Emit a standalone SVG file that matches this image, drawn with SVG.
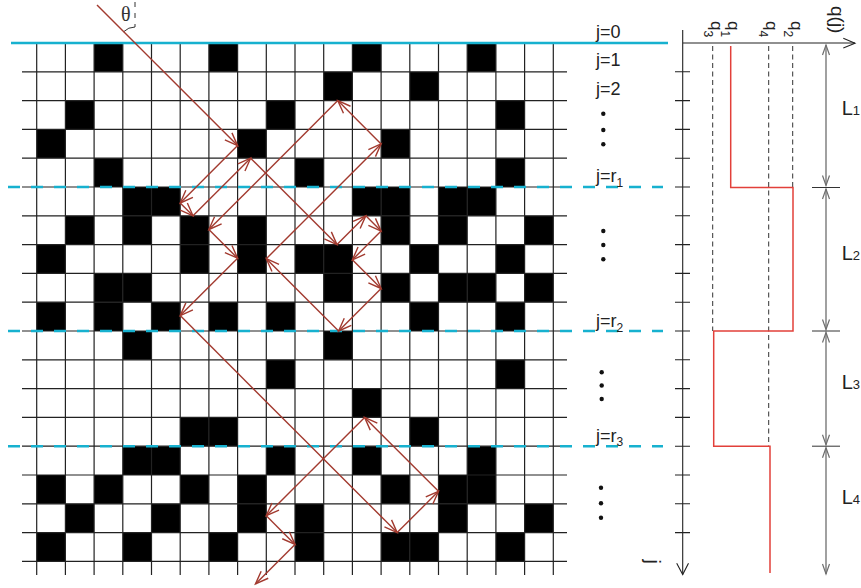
<svg xmlns="http://www.w3.org/2000/svg" width="861" height="588" viewBox="0 0 861 588">
<style>
.gl{stroke:#222;stroke-width:1.2;fill:none}
.cy{stroke:#17b1cf;stroke-width:2.6;fill:none}
.cyd{stroke:#17b1cf;stroke-width:2.6;fill:none;stroke-dasharray:12 11}
.ray{stroke:#a23a2f;stroke-width:1.4;fill:none;marker-end:url(#ah)}
.ax{stroke:#222;stroke-width:1.1;fill:none}
.qd{stroke:#333;stroke-width:1;fill:none;stroke-dasharray:5 3.5}
.prof{stroke:#e2403a;stroke-width:1.5;fill:none}
.dim{stroke:#6e6e6e;stroke-width:1.3;fill:none;marker-start:url(#da);marker-end:url(#da)}
.dtk{stroke:#333;stroke-width:1;fill:none}
.t{font-family:"Liberation Sans",Arial,sans-serif;fill:#222}
.dot{fill:#111}
</style>
<defs>
<rect id="b" width="28.7" height="28.8" fill="#000"/>
<marker id="ah" viewBox="-15 -7 17 14" refX="0" refY="0" markerWidth="17" markerHeight="14" markerUnits="userSpaceOnUse" orient="auto"><path d="M-13,-5 L0,0 L-13,5" fill="none" stroke="#a23a2f" stroke-width="1.4"/></marker>
<marker id="da" viewBox="-12 -5 14 10" refX="0" refY="0" markerWidth="14" markerHeight="10" markerUnits="userSpaceOnUse" orient="auto-start-reverse"><path d="M-10,-3.5 L0,0 L-10,3.5" fill="none" stroke="#6e6e6e" stroke-width="1.2"/></marker>
</defs>

<g id="cells">
<use href="#b" x="94.1" y="43"/><use href="#b" x="208.9" y="43"/><use href="#b" x="352.4" y="43"/><use href="#b" x="467.2" y="43"/>
<use href="#b" x="323.7" y="71.8"/><use href="#b" x="409.8" y="71.8"/>
<use href="#b" x="65.4" y="100.6"/><use href="#b" x="266.3" y="100.6"/><use href="#b" x="495.9" y="100.6"/>
<use href="#b" x="36.7" y="129.4"/><use href="#b" x="237.6" y="129.4"/><use href="#b" x="381.1" y="129.4"/>
<use href="#b" x="94.1" y="158.2"/><use href="#b" x="295" y="158.2"/><use href="#b" x="495.9" y="158.2"/>
<use href="#b" x="122.8" y="187"/><use href="#b" x="151.5" y="187"/><use href="#b" x="352.4" y="187"/><use href="#b" x="381.1" y="187"/><use href="#b" x="438.5" y="187"/><use href="#b" x="467.2" y="187"/>
<use href="#b" x="65.4" y="215.8"/><use href="#b" x="122.8" y="215.8"/><use href="#b" x="180.2" y="215.8"/><use href="#b" x="237.6" y="215.8"/><use href="#b" x="381.1" y="215.8"/><use href="#b" x="438.5" y="215.8"/><use href="#b" x="524.6" y="215.8"/>
<use href="#b" x="36.7" y="244.6"/><use href="#b" x="180.2" y="244.6"/><use href="#b" x="237.6" y="244.6"/><use href="#b" x="295" y="244.6"/><use href="#b" x="323.7" y="244.6"/><use href="#b" x="409.8" y="244.6"/><use href="#b" x="495.9" y="244.6"/>
<use href="#b" x="94.1" y="273.4"/><use href="#b" x="122.8" y="273.4"/><use href="#b" x="323.7" y="273.4"/><use href="#b" x="381.1" y="273.4"/><use href="#b" x="438.5" y="273.4"/><use href="#b" x="467.2" y="273.4"/><use href="#b" x="524.6" y="273.4"/>
<use href="#b" x="36.7" y="302.2"/><use href="#b" x="94.1" y="302.2"/><use href="#b" x="151.5" y="302.2"/><use href="#b" x="208.9" y="302.2"/><use href="#b" x="266.3" y="302.2"/><use href="#b" x="409.8" y="302.2"/><use href="#b" x="495.9" y="302.2"/>
<use href="#b" x="122.8" y="331"/><use href="#b" x="323.7" y="331"/>
<use href="#b" x="266.3" y="359.8"/><use href="#b" x="495.9" y="359.8"/>
<use href="#b" x="352.4" y="388.6"/>
<use href="#b" x="180.2" y="417.4"/><use href="#b" x="208.9" y="417.4"/><use href="#b" x="409.8" y="417.4"/>
<use href="#b" x="122.8" y="446.2"/><use href="#b" x="151.5" y="446.2"/><use href="#b" x="266.3" y="446.2"/><use href="#b" x="352.4" y="446.2"/><use href="#b" x="467.2" y="446.2"/>
<use href="#b" x="36.7" y="475"/><use href="#b" x="94.1" y="475"/><use href="#b" x="180.2" y="475"/><use href="#b" x="237.6" y="475"/><use href="#b" x="381.1" y="475"/><use href="#b" x="438.5" y="475"/><use href="#b" x="467.2" y="475"/>
<use href="#b" x="65.4" y="503.8"/><use href="#b" x="151.5" y="503.8"/><use href="#b" x="237.6" y="503.8"/><use href="#b" x="295" y="503.8"/><use href="#b" x="438.5" y="503.8"/><use href="#b" x="524.6" y="503.8"/>
<use href="#b" x="36.7" y="532.6"/><use href="#b" x="122.8" y="532.6"/><use href="#b" x="208.9" y="532.6"/><use href="#b" x="295" y="532.6"/><use href="#b" x="381.1" y="532.6"/><use href="#b" x="409.8" y="532.6"/><use href="#b" x="495.9" y="532.6"/>
</g>

<g id="grid">
<path class="gl" d="M22,71.8H567M22,100.6H567M22,129.4H567M22,158.2H567M22,187H567M22,215.8H567M22,244.6H567M22,273.4H567M22,302.2H567M22,331H567M22,359.8H567M22,388.6H567M22,417.4H567M22,446.2H567M22,475H567M22,503.8H567M22,532.6H567M22,561.4H567"/>
<path class="gl" d="M36.7,43V575M65.4,43V575M94.1,43V575M122.8,43V575M151.5,43V575M180.2,43V575M208.9,43V575M237.6,43V575M266.3,43V575M295,43V575M323.7,43V575M352.4,43V575M381.1,43V575M409.8,43V575M438.5,43V575M467.2,43V575M495.9,43V575M524.6,43V575M553.3,43V575"/>
</g>

<g id="layers">
<path class="cy" d="M11,43H668"/>
<path class="cyd" d="M8,187H663"/>
<path class="cyd" d="M8,331H663"/>
<path class="cyd" d="M8,446.2H663"/>
</g>

<g id="angle">
<path d="M135,2V27" stroke="#333" stroke-width="1" stroke-dasharray="5 6" fill="none"/>
<path d="M123.7,31.7A16,16 0 0 1 135,27" stroke="#333" stroke-width="1" fill="none"/>
<text x="121" y="21" font-family="Liberation Serif,Times New Roman,serif" font-size="20" fill="#333">θ</text>
</g>

<g id="connectors">
<line class="ray" x1="97" y1="5" x2="237.6" y2="145.6"/>
<line class="ray" x1="237.6" y1="145.6" x2="180.2" y2="203"/>
<line class="ray" x1="180.2" y1="203" x2="193" y2="215.8"/>
<line class="ray" x1="193" y1="215.8" x2="250.6" y2="158.2"/>
<line class="ray" x1="250.6" y1="158.2" x2="337" y2="244.6"/>
<line class="ray" x1="337" y1="244.6" x2="365.8" y2="215.8"/>
<line class="ray" x1="365.8" y1="215.8" x2="381.1" y2="231.1"/>
<line class="ray" x1="381.1" y1="231.1" x2="352.4" y2="259.8"/>
<line class="ray" x1="352.4" y1="259.8" x2="381.1" y2="288.5"/>
<line class="ray" x1="381.1" y1="288.5" x2="338.6" y2="331"/>
<line class="ray" x1="338.6" y1="331" x2="266.3" y2="258.7"/>
<line class="ray" x1="266.3" y1="258.7" x2="381.1" y2="143.9"/>
<line class="ray" x1="381.1" y1="143.9" x2="337.8" y2="100.6"/>
<line class="ray" x1="337.8" y1="100.6" x2="208.9" y2="229.5"/>
<line class="ray" x1="208.9" y1="229.5" x2="237.6" y2="258.2"/>
<line class="ray" x1="237.6" y1="258.2" x2="180.2" y2="315.6"/>
<line class="ray" x1="180.2" y1="315.6" x2="397.2" y2="532.6"/>
<line class="ray" x1="397.2" y1="532.6" x2="438.5" y2="491.3"/>
<line class="ray" x1="438.5" y1="491.3" x2="364.6" y2="417.4"/>
<line class="ray" x1="364.6" y1="417.4" x2="266.3" y2="515.7"/>
<line class="ray" x1="266.3" y1="515.7" x2="295" y2="544.4"/>
<line class="ray" x1="295" y1="544.4" x2="255.5" y2="583.9"/>
</g>

<g id="row-labels" class="t">
<text x="596" y="37.5" font-size="18">j=0</text>
<text x="596" y="66" font-size="18">j=1</text>
<text x="596" y="94.5" font-size="18">j=2</text>
<text x="596" y="181.5" font-size="18">j=r<tspan font-size="12" dy="5">1</tspan></text>
<text x="596" y="326.7" font-size="18">j=r<tspan font-size="12" dy="5">2</tspan></text>
<text x="596" y="441.7" font-size="18">j=r<tspan font-size="12" dy="4.5">3</tspan></text>
<circle class="dot" cx="603.3" cy="113.7" r="2.2"/><circle class="dot" cx="603.3" cy="130" r="2.2"/><circle class="dot" cx="603.3" cy="144.3" r="2.2"/>
<circle class="dot" cx="603.3" cy="231" r="2.2"/><circle class="dot" cx="603.3" cy="245" r="2.2"/><circle class="dot" cx="603.3" cy="259.3" r="2.2"/>
<circle class="dot" cx="601.7" cy="372.3" r="2.2"/><circle class="dot" cx="601.7" cy="385.5" r="2.2"/><circle class="dot" cx="601.7" cy="399" r="2.2"/>
<circle class="dot" cx="601" cy="487.7" r="2.2"/><circle class="dot" cx="601" cy="503.3" r="2.2"/><circle class="dot" cx="601" cy="517.7" r="2.2"/>
</g>

<g id="axes">
<path class="ax" d="M682.7,30V574.5M683,43H855"/>
<path class="ax" d="M843.3,38.3L855,43.2L843.3,48.1"/>
<path class="ax" d="M676.7,563.3L682.7,574.5L688.5,563.3"/>
<path class="ax" d="M675,71.8H690M675,100.6H690M675,129.4H690M675,158.2H690M675,187H690M675,215.8H690M675,244.6H690M675,273.4H690M675,302.2H690M675,331H690M675,359.8H690M675,388.6H690M675,417.4H690M675,446.2H690M675,475H690M675,503.8H690M675,532.6H690"/>
<text class="t" transform="translate(646,559.5) rotate(90)" font-size="20">j</text>
<text class="t" transform="translate(831,6) rotate(90)" font-size="19">q(j)</text>
</g>

<g id="profile">
<path class="qd" d="M712.7,46V331"/>
<path class="qd" d="M768.7,46V446"/>
<path class="qd" d="M792.7,46V187"/>
<path class="prof" d="M730.7,46V187.5H793V331H713.7V446.2H770V573"/>
<text class="t" transform="translate(710.5,21) rotate(90)" font-size="17">q<tspan font-size="12" dy="6.5">3</tspan></text>
<text class="t" transform="translate(727.5,21) rotate(90)" font-size="17">q<tspan font-size="12" dy="6.5">1</tspan></text>
<text class="t" transform="translate(765.5,21) rotate(90)" font-size="17">q<tspan font-size="12" dy="6.5">4</tspan></text>
<text class="t" transform="translate(790.5,21) rotate(90)" font-size="17">q<tspan font-size="12" dy="6.5">2</tspan></text>
</g>

<g id="dimensions">
<line class="dim" x1="826" y1="45" x2="826" y2="185.5"/>
<line class="dim" x1="826" y1="189" x2="826" y2="329.5"/>
<line class="dim" x1="826" y1="332.5" x2="826" y2="444.7"/>
<line class="dim" x1="826" y1="447.7" x2="826" y2="574"/>
<path class="dtk" d="M812,187.5H840M812,331H840M812,446.2H840"/>
<text class="t" x="841.7" y="115" font-size="20">L<tspan font-size="13">1</tspan></text>
<text class="t" x="841.7" y="260" font-size="20">L<tspan font-size="13">2</tspan></text>
<text class="t" x="841.7" y="388.5" font-size="20">L<tspan font-size="13">3</tspan></text>
<text class="t" x="841.7" y="503.5" font-size="20">L<tspan font-size="13">4</tspan></text>
</g>
</svg>
